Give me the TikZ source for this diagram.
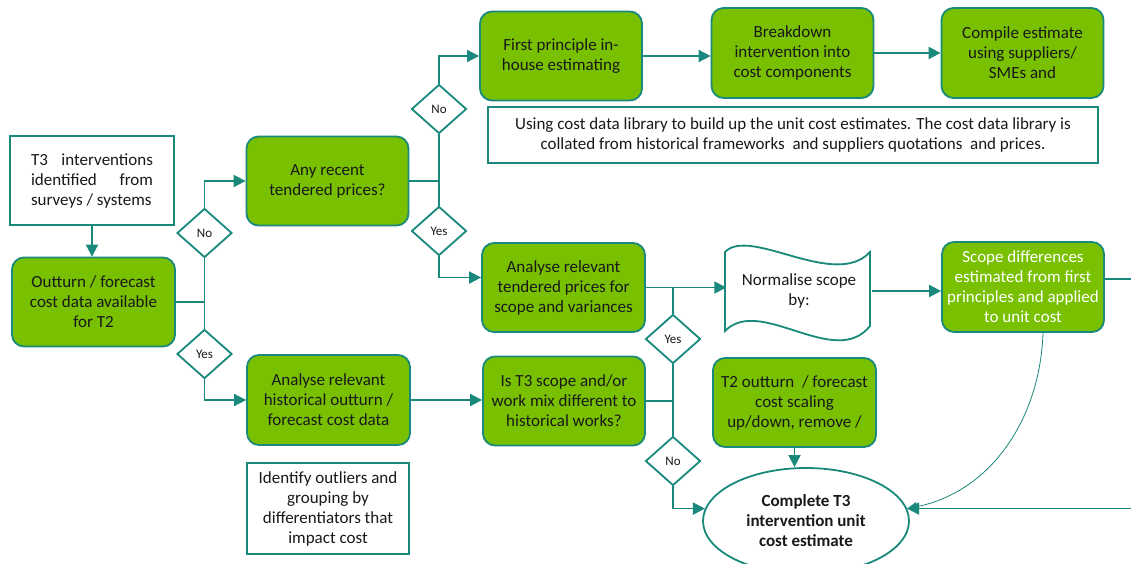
\documentclass[tikz,border=0pt]{standalone}
\usepackage{fontspec}
\setmainfont{Carlito}
\usetikzlibrary{shapes.geometric,arrows.meta}
\definecolor{tealc}{RGB}{24,137,122}
\definecolor{greenc}{RGB}{120,192,0}
\definecolor{txt}{RGB}{25,25,25}
\tikzset{
  gbox/.style={draw=tealc, fill=greenc, line width=1.8pt, rounded corners=12pt,
    minimum width=162pt, minimum height=89pt, align=center, text=txt,
    font=\fontsize{17}{20}\selectfont, inner sep=1pt},
  wbox/.style={draw=tealc, fill=white, line width=1.8pt,
    minimum width=162pt, minimum height=89pt, align=center, text=txt,
    font=\fontsize{17}{20}\selectfont, inner sep=1pt},
  dia/.style={diamond, draw=tealc, fill=white, line width=1.8pt, inner sep=0pt,
    minimum width=55pt, minimum height=49pt, text=txt, font=\fontsize{13}{15}\selectfont},
  conn/.style={draw=tealc, line width=1.8pt},
  arr/.style={conn, -{Triangle[length=12pt,width=12pt]}},
  thinarr/.style={draw=tealc, line width=0.8pt, -{Triangle[length=10pt,width=9pt]}},
}
\begin{document}
\begin{tikzpicture}[x=1pt,y=-1pt]
\useasboundingbox (0,0) rectangle (1131,563);
\fill[white] (0,0) rectangle (1131,563);

% nodes
\node[wbox, minimum width=164pt] (t3) at (92,180.5)
  {\makebox[122pt]{T3\hfill interventions}\\\makebox[122pt]{identified\hfill from}\\\makebox[122pt][l]{surveys / systems}};
\node[gbox, minimum width=163pt] (outturn) at (93.5,302) {Outturn / forecast\\cost data available\\for T2};
\node[dia] (no1) at (204.5,233) {No};
\node[dia] (yes1) at (204.5,354) {Yes};
\node[gbox] (recent) at (327.5,181) {Any recent\\tendered prices?};
\node[dia] (no2) at (439,109) {No};
\node[dia] (yes2) at (439,231) {Yes};
\node[gbox] (fp) at (561,56) {First principle in-\\house estimating};
\node[gbox, minimum height=90pt] (bd) at (792.5,53) {Breakdown\\intervention into\\cost components};
\node[gbox, minimum height=90pt] (comp) at (1022.5,53) {Compile estimate\\using suppliers/\\SMEs and};
\node[wbox, minimum width=610pt, minimum height=56pt] (lib) at (793,135)
  {Using cost data library to build up the unit cost estimates. The cost data library is\\collated from historical frameworks~ and suppliers quotations~ and prices.};
\node[gbox, minimum width=163pt] (tend) at (563.5,287.5) {Analyse relevant\\tendered prices for\\scope and variances};
\node[minimum width=145pt, minimum height=80pt, align=center, text=txt,
  font=\fontsize{17}{20}\selectfont] (norm) at (799,291) {Normalise scope\\by:};
\node[gbox, minimum height=90pt, text=white] (sd) at (1023,287) {Scope differences\\estimated from first\\principles and applied\\to unit cost};
\node[gbox, minimum width=163pt, minimum height=90pt] (hist) at (328.5,400) {Analyse relevant\\historical outturn /\\forecast cost data};
\node[gbox] (isbox) at (564,401) {Is T3 scope and/or\\work mix different to\\historical works?};
\node[wbox, minimum height=91pt] (ident) at (328,508.5) {Identify outliers and\\grouping by\\differentiators that\\impact cost};
\node[gbox, minimum width=163pt] (t2) at (794.5,402.5) {T2 outturn~ / forecast\\cost scaling\\up/down, remove /};
\node[dia] (yes3) at (673,339) {Yes};
\node[dia] (no3) at (673,461) {No};
\node[ellipse, draw=tealc, fill=white, line width=1.8pt, minimum width=206pt,
  minimum height=106pt, align=center, text=txt, inner sep=0pt,
  font=\bfseries\fontsize{17}{20}\selectfont] (ce) at (806,521) {Complete T3\\intervention unit\\cost estimate};

% normalise wavy outline
\draw[draw=tealc, line width=1.8pt]
  (725,252) .. controls (750,226) and (835,290) .. (870,252) -- (870,326)
  .. controls (835,370) and (760,295) .. (725,331) -- cycle;

% connectors
\coordinate (j1) at (no1.south |- outturn.east);
\coordinate (j2) at (no2.south |- recent.east);
\coordinate (j3) at (yes3.north |- tend.east);
\coordinate (j4) at (yes3.south |- isbox.east);

\draw[arr] (t3.south) -- (t3.south |- outturn.north);
\draw[conn] (outturn.east) -- (j1);
\draw[conn] (j1) -- (no1.south);
\draw[conn] (j1) -- (yes1.north);
\draw[arr] (no1.north) |- (recent.west);
\draw[arr] (yes1.south) |- (hist.west);

\draw[conn] (recent.east) -- (j2);
\draw[conn] (j2) -- (no2.south);
\draw[conn] (j2) -- (yes2.north);
\draw[arr] (no2.north) |- (fp.west);
\draw[arr] (yes2.south) |- ([yshift=10pt]tend.west);

\draw[arr] (fp.east) -- (fp.east -| bd.west);
\draw[arr] (bd.east) -- (bd.east -| comp.west);

\draw[arr] (tend.east) -- (tend.east -| norm.west);
\draw[arr] (norm.east) -- (norm.east -| sd.west);
\draw[arr] (hist.east) -- (hist.east -| isbox.west);

\draw[conn] (isbox.east) -- (j4);
\draw[conn] (j4) -- (yes3.south);
\draw[conn] (yes3.north) -- (j3);
\draw[conn] (j4) -- (no3.north);
\draw[arr] (no3.south) |- (ce.173);

\draw[arr] (t2.south) -- (t2.south |- ce.north);

\draw[conn, line width=1.2pt] ([yshift=8pt]sd.east) -- ++(26,0) coordinate (rc);
\draw[conn, line width=0.6pt, draw=tealc!60] (rc) -- (rc |- ce.7);
\draw[arr] (rc |- ce.7) -- (ce.7);
\draw[thinarr] ([xshift=20pt]sd.south) .. controls (1040,420) and (990,492) .. (ce.7);
\end{tikzpicture}
\end{document}
